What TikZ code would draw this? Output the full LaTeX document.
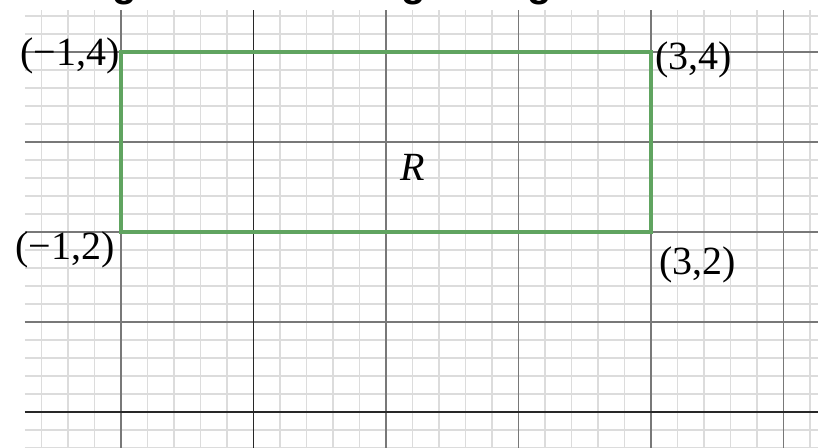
\documentclass[tikz,border=0pt]{standalone}
\usepackage{fontspec}
\setmainfont{Liberation Serif}
\newfontfamily\titlefont{Liberation Sans}
\definecolor{rectgreen}{RGB}{96,164,96}
\definecolor{minorgray}{RGB}{220,220,220}
\definecolor{majorgray}{RGB}{120,120,120}
\definecolor{axisgray}{RGB}{40,40,40}
\tikzset{
  minorline/.style={draw=minorgray, line width=1.5pt},
  majorline/.style={draw=majorgray, line width=1.5pt},
  axisline/.style={draw=axisgray, line width=1.6pt},
  regionline/.style={draw=rectgreen, line width=3.4pt, line join=miter},
  corner/.style={inner sep=0pt, font=\fontsize{40}{48}\selectfont},
  titleglyph/.style={inner sep=0pt, anchor=base, font=\titlefont\bfseries\fontsize{40}{48}\selectfont}
}
\begin{document}
\begin{tikzpicture}[x=132.5pt, y=90pt]
  \useasboundingbox (-1.9132,-0.3889) rectangle (4.2981,4.5778);
  \clip (-1.9132,-0.3889) rectangle (4.2981,4.5778);
  \fill[white] (-1.9132,-0.3889) rectangle (4.2981,4.5778);
  % minor grid
  \draw[minorline, xstep=0.2, ystep=0.2] (-1.7245,-0.5) grid (4.26,4.467);
  % major grid
  \foreach \gx in {-1,1,2,3,4} \draw[majorline] (\gx,-0.5) -- (\gx,4.467);
  \foreach \gy in {1,2,3,4} \draw[majorline] (-1.7245,\gy) -- (4.26,\gy);
  \draw[axisline] (0,-0.5) -- (0,4.467);
  \draw[axisline] (-1.7245,0) -- (4.26,0);
  % cut-off title descenders
  \node[titleglyph] (t1) at (-0.9736,4.616) {g};
  \node[titleglyph] (t2) at (1.2075,4.616) {g};
  \node[titleglyph] (t3) at (2.1585,4.616) {g};
  % region
  \coordinate (A) at (-1,2);
  \coordinate (B) at (3,2);
  \coordinate (C) at (3,4);
  \coordinate (D) at (-1,4);
  \draw[regionline] (A) -- (B) -- (C) -- (D) -- cycle;
  \node[corner, anchor=east] (lD) at ([xshift=-1pt,yshift=-4pt]D) {(−1,4)};
  \node[corner, anchor=west] (lC) at ([xshift=4pt,yshift=-8pt]C) {(3,4)};
  \node[corner, anchor=east] (lA) at ([xshift=-6pt,yshift=-18pt]A) {(−1,2)};
  \node[corner, anchor=west] (lB) at ([xshift=8pt,yshift=-33pt]B) {(3,2)};
  \node[corner] (R) at (1.2,2.72) {\textit{R}};
\end{tikzpicture}
\end{document}
